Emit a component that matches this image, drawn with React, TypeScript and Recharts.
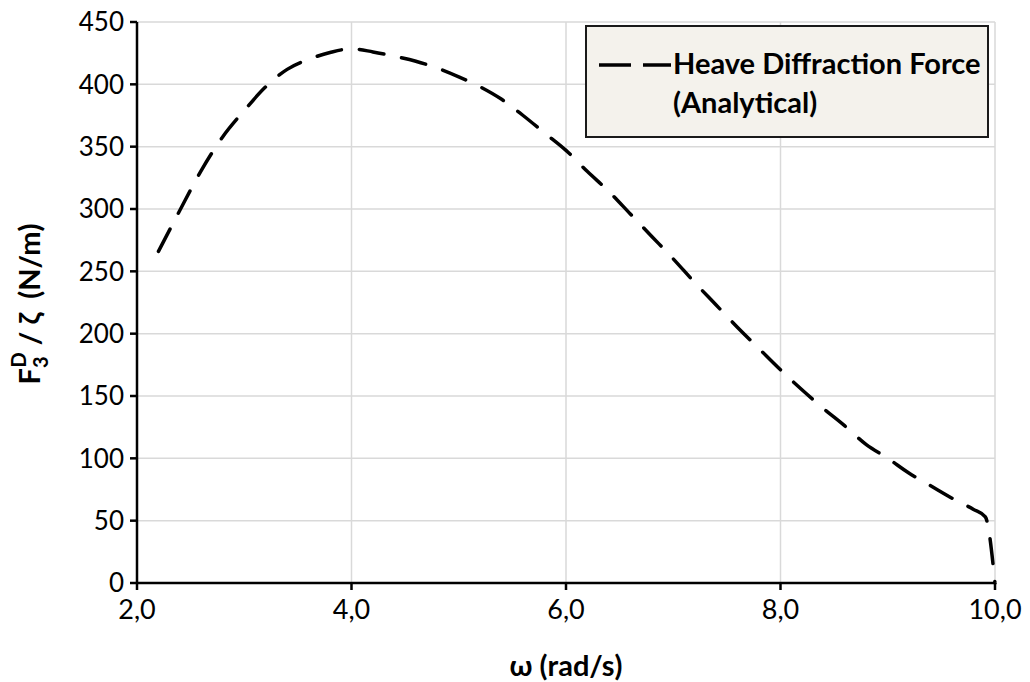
import React from "react";
import {
  LineChart,
  Line,
  XAxis,
  YAxis,
  CartesianGrid,
} from "recharts";

// ω (rad/s)
const omega = [
  2.2, 2.4, 2.6, 2.8, 3.0, 3.2, 3.4, 3.6, 3.8, 4.0, 4.2, 4.4, 4.6, 4.8, 5.0,
  5.2, 5.4, 5.6, 5.8, 6.0, 6.2, 6.4, 6.6, 6.8, 7.0, 7.2, 7.4, 7.6, 7.8, 8.0,
  8.2, 8.4, 8.6, 8.8, 9.0, 9.2, 9.4, 9.6, 9.8, 9.91, 10.0,
];

// heave diffraction force per wave amplitude (N/m)
const heaveForce = [
  266, 299, 331, 358, 379, 398, 412, 420, 425.5, 428.5, 426, 422.5, 418.5,
  413, 406, 398, 388, 375, 361, 347, 330, 314, 296, 278, 260, 241, 223, 205,
  188, 171, 155, 140, 126, 111, 100, 88, 78, 68, 59, 53, 0,
];

const xTicks = [2, 4, 6, 8, 10];
const yTicks = [0, 50, 100, 150, 200, 250, 300, 350, 400, 450];

const seriesName = ["Heave Diffraction Force", "(Analytical)"];

const data = omega.map((w, i) => ({ w, f: heaveForce[i] }));

const FONT = "Lato, 'Open Sans', sans-serif";
const DASH = "25 18";

const fmtX = (v: number) => v.toFixed(1).replace(".", ",");

function LegendBox() {
  return (
    <div
      style={{
        position: "absolute",
        left: 585,
        top: 25,
        width: 404,
        height: 113,
        boxSizing: "border-box",
        background: "#f4f2ec",
        border: "2px solid #1a1a1a",
        fontFamily: FONT,
        fontWeight: 700,
        fontSize: 29,
        color: "#000",
      }}
    >
      <svg
        width={76}
        height={10}
        style={{ position: "absolute", left: 10, top: 33 }}
      >
        <line
          x1={2}
          y1={5}
          x2={74}
          y2={5}
          stroke="#000"
          strokeWidth={3.5}
          strokeDasharray="32 12"
        />
      </svg>
      <div
        style={{
          position: "absolute",
          left: 86,
          top: 16,
          lineHeight: "39px",
          whiteSpace: "nowrap",
        }}
      >
        {seriesName[0]}
        <br />
        {seriesName[1]}
      </div>
    </div>
  );
}

function YLabel() {
  return (
    <text
      transform="translate(40, 304) rotate(-90)"
      textAnchor="middle"
      fontFamily={FONT}
      fontWeight={700}
      fontSize={29}
      fill="#000"
      xmlSpace="preserve"
    >
      <tspan>F</tspan>
      <tspan fontSize={20} dy={8}>3</tspan>
      <tspan fontSize={20} dy={-22} dx={-11}>D</tspan>
      <tspan dy={14}>{" / ζ  (N/m)"}</tspan>
    </text>
  );
}

export default function App() {
  return (
    <div
      style={{
        position: "absolute",
        left: 0,
        top: 0,
        width: 1030,
        height: 682,
        background: "#fff",
      }}
    >
      <LineChart
        width={1030}
        height={682}
        data={data}
        margin={{ top: 22, right: 35, bottom: 0, left: 0 }}
      >
        <CartesianGrid stroke="#d9d9d9" strokeWidth={1.5} />
        <XAxis
          dataKey="w"
          type="number"
          domain={[2, 10]}
          ticks={xTicks}
          tickFormatter={fmtX}
          height={99}
          stroke="#000"
          strokeWidth={2.5}
          tickSize={7}
          tick={{ fill: "#000", fontSize: 27, fontFamily: FONT, dy: 8 }}
          label={{
            value: "ω (rad/s)",
            position: "insideBottom",
            offset: 6,
            fill: "#000",
            fontSize: 29,
            fontWeight: 700,
            fontFamily: FONT,
          }}
        />
        <YAxis
          type="number"
          domain={[0, 450]}
          ticks={yTicks}
          width={137}
          stroke="#000"
          strokeWidth={2.5}
          tickSize={7}
          interval={0}
          tick={{ fill: "#000", fontSize: 26, fontFamily: FONT, dx: -4 }}
          label={{ content: () => <YLabel /> }}
        />
        <Line
          type="monotone"
          dataKey="f"
          name={seriesName.join(" ")}
          stroke="#000"
          strokeWidth={3.5}
          strokeDasharray={DASH}
          strokeLinecap="round"
          dot={false}
          isAnimationActive={false}
        />
      </LineChart>
      <LegendBox />
    </div>
  );
}
